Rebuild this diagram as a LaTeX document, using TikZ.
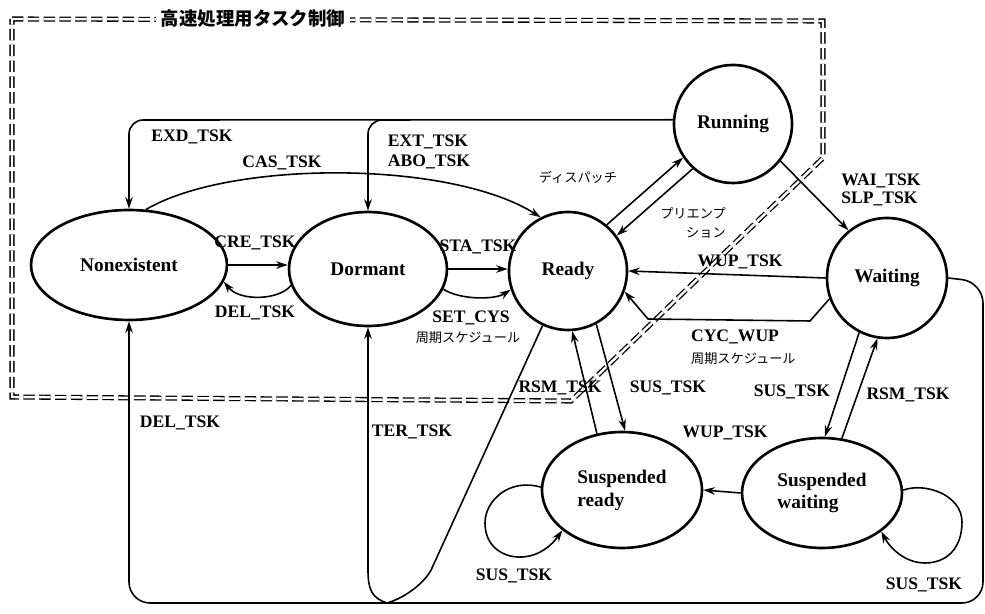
\documentclass[tikz,border=0pt]{standalone}
\usepackage{fontspec}
\setmainfont{Liberation Serif}
\newfontfamily\jpfont{Noto Sans CJK JP}
\usetikzlibrary{arrows.meta,shapes.geometric}
\tikzset{
  state/.style={draw, ellipse, line width=1.5pt, inner sep=0pt, font=\bfseries\fontsize{11}{13}\selectfont},
  cstate/.style={state, circle},
  trans/.style={-{Stealth[length=2.3mm,width=1.5mm]}, line width=0.9pt},
  plainln/.style={line width=0.9pt},
  lbl/.style={font=\bfseries\fontsize{10}{11}\selectfont, inner sep=1pt},
  jplbl/.style={font=\jpfont\fontsize{7.5}{11}\selectfont, inner sep=1pt},
  frameln/.style={double, double distance=1.4pt, line width=0.75pt, dash pattern=on 6.5pt off 2.5pt},
}

\begin{document}
\begin{tikzpicture}[x=0.02cm, y=0.02cm]
    \useasboundingbox (0,0) rectangle (985,-614);
    % high-speed frame (drawn first, connectors go over it)
    \draw[frameln] (12,-19) -- (823,-21) -- (823,-158) -- (571,-401) -- (12,-397) -- cycle;
    \node[fill=white, inner sep=2.5pt, font=\jpfont\bfseries\fontsize{10.5}{12}\selectfont] (title) at (253,-19) {高速処理用タスク制御};
    % states
    \node[state, minimum width=3.92cm, minimum height=2.2cm] (nonexist) at (129,-265) {Nonexistent};
    \node[state, minimum width=3.16cm, minimum height=2.28cm] (dormant) at (368,-269) {Dormant};
    \node[cstate, minimum size=2.36cm] (ready) at (568,-271) {Ready};
    \node[cstate, minimum size=2.36cm] (running) at (733,-124) {Running};
    \node[cstate, minimum size=2.4cm] (waiting) at (887,-278) {Waiting};
    \node[state, align=left, minimum width=3.2cm, minimum height=2.32cm] (susready) at (622,-490) {Suspended\\ready};
    \node[state, align=left, minimum width=3.2cm, minimum height=2.2cm] (suswait) at (822,-493) {Suspended\\waiting};
    \coordinate (toplevel) at (400,-120);
    \coordinate (botline) at (400,-603);
    \coordinate (cusp) at (387,-603);
    % exit / abort, back along the top
    \draw[trans, rounded corners=8pt] (running.176) -- (nonexist.north |- toplevel) -- (nonexist.north);
    \draw[trans, rounded corners=8pt] (410,-120) -- (dormant.north |- toplevel) -- (dormant.north);
    \draw[trans] (nonexist.73) .. controls (230,-160) and (450,-160) .. (ready.117);
    % create / delete, start / cyclic
    \draw[trans] (nonexist.east) -- (nonexist.east -| dormant.west);
    \draw[trans] (dormant.192) .. controls (280,-300) and (240,-302) .. (nonexist.350);
    \draw[trans] (dormant.east) -- (dormant.east -| ready.west);
    \draw[trans] (dormant.345) .. controls (460,-300) and (495,-300) .. (ready.198);
    % dispatch / preemption, wait
    \draw[trans] (ready.50) -- (running.214);
    \draw[trans] (running.228) -- (ready.36);
    \draw[trans] (running.322) -- (waiting.129);
    \draw[trans] (waiting.west) -- (ready.east);
    \draw[trans] (waiting.200) -- (810,-321) -- (648,-319) -- (ready.340);
    % suspend / resume
    \draw[trans] (ready.298) -- (susready.87);
    \draw[trans] (susready.114) -- (ready.274);
    \draw[trans] (waiting.243) -- (suswait.87);
    \draw[trans] (suswait.70) -- (waiting.261);
    \draw[trans] (suswait.west) -- (susready.east);
    % self loops
    \draw[trans] (susready.178) .. controls (510,-478) and (485,-500) .. (485,-523)
      .. controls (485,-548) and (505,-558) .. (522,-557)
      .. controls (540,-556) and (552,-545) .. (susready.214);
    \draw[trans] (suswait.2) .. controls (925,-482) and (962,-495) .. (962,-522)
      .. controls (962,-550) and (945,-563) .. (925,-563)
      .. controls (905,-563) and (890,-548) .. (suswait.327);
    % terminate / delete along the bottom
    \draw[trans, rounded corners=12pt] (waiting.east) -- (983,-282) -- (983,-603) -- (nonexist.south |- botline) -- (nonexist.south);
    \draw[trans] (cusp) .. controls (372,-598) and (368,-590) .. (368,-570) -- (dormant.south);
    \draw[plainln] (ready.245) -- (432,-568) .. controls (426,-582) and (405,-598) .. (cusp);
    % labels
    \node[lbl] (l-exd) at (192,-137) {EXD\_TSK};
    \node[lbl] (l-cas) at (282,-163) {CAS\_TSK};
    \node[lbl, align=left] (l-ext) at (429,-152) {EXT\_TSK\\ABO\_TSK};
    \node[jplbl] (l-disp) at (578,-177) {ディスパッチ};
    \node[jplbl, align=right] (l-pre) at (693,-223) {プリエンプ\\ション};
    \node[lbl, align=left, font=\bfseries\fontsize{10}{10}\selectfont] (l-wai) at (881,-190) {WAI\_TSK\\SLP\_TSK};
    \node[lbl] (l-cre) at (255,-243) {CRE\_TSK};
    \node[lbl] (l-del) at (255,-313) {DEL\_TSK};
    \node[lbl] (l-sta) at (478,-247) {STA\_TSK};
    \node[lbl] (l-set) at (471,-318) {SET\_CYS};
    \node[jplbl] (l-setjp) at (468,-338) {周期スケジュール};
    \node[lbl] (l-wup) at (740,-262) {WUP\_TSK};
    \node[lbl, anchor=west] (l-cyc) at (689,-337) {CYC\_WUP};
    \node[jplbl, anchor=west] (l-cycjp) at (689,-359) {周期スケジュール};
    \node[lbl] (l-rsm1) at (560,-388) {RSM\_TSK};
    \node[lbl] (l-sus1) at (668,-388) {SUS\_TSK};
    \node[lbl] (l-sus2) at (792,-392) {SUS\_TSK};
    \node[lbl] (l-rsm2) at (908,-395) {RSM\_TSK};
    \node[lbl] (l-wup2) at (725,-433) {WUP\_TSK};
    \node[lbl] (l-del2) at (180,-423) {DEL\_TSK};
    \node[lbl] (l-ter) at (412,-432) {TER\_TSK};
    \node[lbl] (l-sus3) at (514,-576) {SUS\_TSK};
    \node[lbl] (l-sus4) at (924,-585) {SUS\_TSK};
\end{tikzpicture}
\end{document}
